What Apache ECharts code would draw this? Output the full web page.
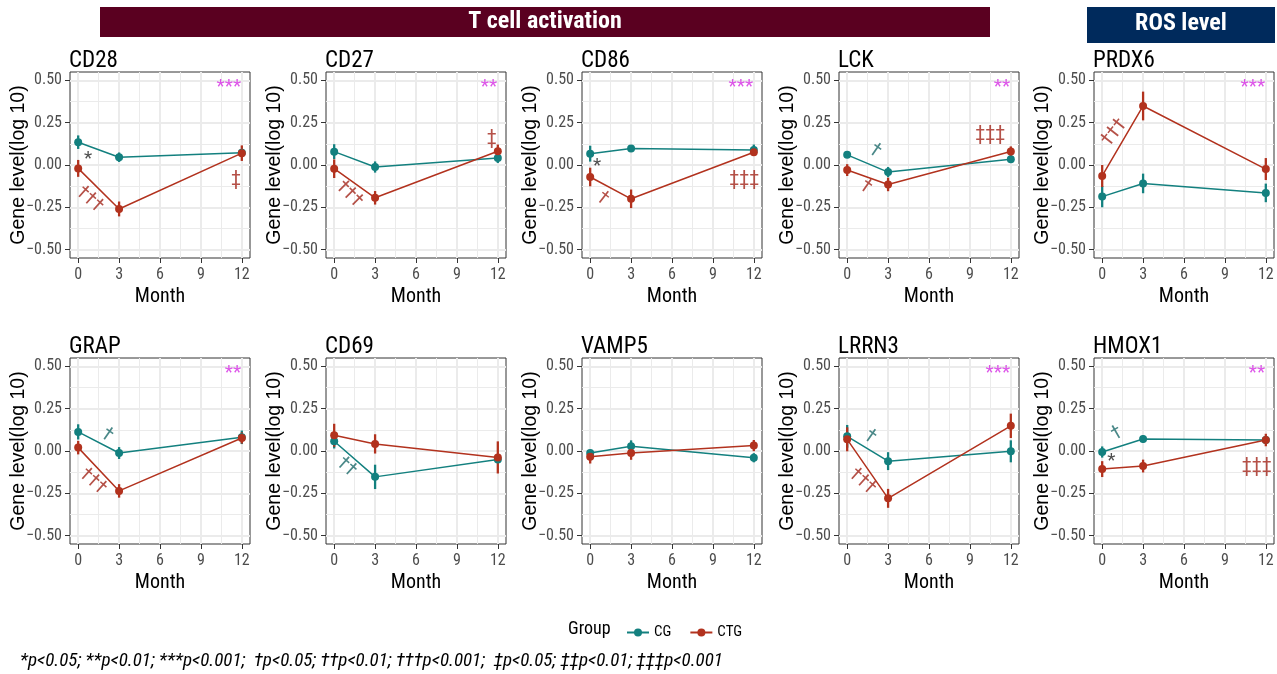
<!DOCTYPE html>
<html>
<head>
<meta charset="utf-8">
<script src="https://cdn.jsdelivr.net/npm/echarts@6/dist/echarts.min.js"></script>
<style>
html,body{margin:0;padding:0;background:#fff;}
#c{width:1277px;height:674px;}
</style>
</head>
<body>
<div id="c"></div>
<script>
// ---------------- DATA ----------------
const genes = ['CD28','CD27','CD86','LCK','PRDX6','GRAP','CD69','VAMP5','LRRN3','HMOX1'];
const months = [0, 3, 12];
const xTicks = [0, 3, 6, 9, 12];
const yTicks = [-0.5, -0.25, 0, 0.25, 0.5];

// CG group means (log10 gene level) at months 0, 3, 12
const cgMean = [
  [0.135, 0.046, 0.073],
  [0.079, -0.012, 0.042],
  [0.067, 0.097, 0.089],
  [0.060, -0.042, 0.034],
  [-0.187, -0.109, -0.165],
  [0.113, -0.012, 0.081],
  [0.058, -0.153, -0.050],
  [-0.012, 0.028, -0.040],
  [0.087, -0.060, -0.002],
  [-0.006, 0.071, 0.065]
];
const cgSE = [
  [0.040, 0.028, 0.020],
  [0.044, 0.033, 0.030],
  [0.047, 0.010, 0.032],
  [0.015, 0.030, 0.015],
  [0.063, 0.058, 0.055],
  [0.045, 0.035, 0.040],
  [0.043, 0.072, 0.020],
  [0.020, 0.035, 0.027],
  [0.067, 0.053, 0.065],
  [0.033, 0.022, 0.017]
];
// CTG group means
const ctgMean = [
  [-0.020, -0.260, 0.070],
  [-0.022, -0.194, 0.081],
  [-0.071, -0.200, 0.075],
  [-0.030, -0.115, 0.080],
  [-0.065, 0.349, -0.024],
  [0.020, -0.236, 0.077],
  [0.093, 0.042, -0.038],
  [-0.034, -0.012, 0.032],
  [0.069, -0.280, 0.149],
  [-0.107, -0.089, 0.065]
];
const ctgSE = [
  [0.050, 0.044, 0.046],
  [0.055, 0.040, 0.040],
  [0.055, 0.055, 0.020],
  [0.035, 0.040, 0.030],
  [0.065, 0.085, 0.065],
  [0.040, 0.040, 0.033],
  [0.068, 0.057, 0.095],
  [0.040, 0.040, 0.033],
  [0.071, 0.056, 0.072],
  [0.047, 0.038, 0.037]
];
// significance annotations: [panel, month, value, text, kind, angle]
const annotations = [
  [0, 11.95, 0.46, '***', 'inter', 0],
  [0, 0.72, 0.036, '*', 'star', 0],
  [0, 0.84, -0.204, '†††', 'ctg', -42],
  [0, 11.58, -0.089, '‡', 'ctgd', 0],
  [1, 11.95, 0.46, '**', 'inter', 0],
  [1, 1.11, -0.173, '†††', 'ctg', -45],
  [1, 11.55, 0.153, '‡', 'ctgd', 0],
  [2, 11.95, 0.46, '***', 'inter', 0],
  [2, 0.5, -0.006, '*', 'star', 0],
  [2, 0.91, -0.198, '†', 'ctg', -38],
  [2, 11.3, -0.089, '‡‡‡', 'ctgd', 0],
  [3, 11.95, 0.46, '**', 'inter', 0],
  [3, 2.05, 0.083, '†', 'cg', -35],
  [3, 1.36, -0.129, '†', 'ctg', -35],
  [3, 10.5, 0.179, '‡‡‡', 'ctgd', 0],
  [4, 11.95, 0.46, '***', 'inter', 0],
  [4, 0.89, 0.192, '†††', 'ctg', 52],
  [5, 11.95, 0.46, '**', 'inter', 0],
  [5, 2.12, 0.093, '†', 'cg', -35],
  [5, 1.08, -0.18, '†††', 'ctg', -42],
  [6, 0.91, -0.095, '††', 'cg', -42],
  [8, 11.95, 0.46, '***', 'inter', 0],
  [8, 1.67, 0.083, '†', 'cg', -35],
  [8, 1.11, -0.18, '†††', 'ctg', -42],
  [9, 11.95, 0.46, '**', 'inter', 0],
  [9, 1.08, 0.103, '†', 'cg', 30],
  [9, 0.67, -0.06, '*', 'star', 0],
  [9, 11.33, -0.095, '‡‡‡', 'ctgd', 0]
];
const footnote = '*p<0.05; **p<0.01; ***p<0.001;  †p<0.05; ††p<0.01; †††p<0.001;  ‡p<0.05; ‡‡p<0.01; ‡‡‡p<0.001';

// ---------------- STYLE / LAYOUT ----------------
const NARROW = "'Liberation Sans Narrow','Arial Narrow','Roboto Condensed',sans-serif";
const REG = "'Liberation Sans',Arial,sans-serif";
const CG_COLOR = '#13807f';
const CTG_COLOR = '#b2321e';
const annColor = {inter:'#d42be3', star:'#222222', cg:'#1d6a6a', ctg:'#a3261a', ctgd:'#a3261a'};
const panelLeft = [70, 326, 582, 839, 1094];
const panelTop = [72, 358];
const panelW = 180, panelH = 186;

const grids = [], xAxes = [], yAxes = [], series = [], titles = [];
const fmtY = v => (v < 0 ? '\u2212' : '') + Math.abs(v).toFixed(2);

genes.forEach((g, i) => {
  const r = Math.floor(i / 5), c = i % 5;
  grids.push({left: panelLeft[c], top: panelTop[r], width: panelW, height: panelH,
    show: true, borderColor: '#333333', borderWidth: 1, backgroundColor: '#ffffff', containLabel: false});
  titles.push({text: g, left: panelLeft[c] - 1, top: panelTop[r] - 22, padding: 0,
    textStyle: {fontFamily: NARROW, fontSize: 23, fontWeight: 'normal', color: '#000'}});
  // major x axis
  xAxes.push({type: 'value', gridIndex: i, min: -0.6, max: 12.6, position: 'bottom',
    name: 'Month', nameLocation: 'middle', nameGap: 29, nameMoveOverlap: false,
    nameTextStyle: {fontFamily: NARROW, fontSize: 20, color: '#000'},
    axisLine: {show: false, onZero: false},
    axisTick: {show: true, customValues: xTicks, length: 5, lineStyle: {color: '#333', width: 1}},
    axisLabel: {customValues: xTicks, margin: 9, fontFamily: NARROW, fontSize: 16, color: '#4d4d4d'},
    splitLine: {show: true, lineStyle: {color: '#ebebeb', width: 2}}});
  // minor x grid
  xAxes.push({type: 'value', gridIndex: i, min: -0.6, max: 12.6, position: 'top',
    axisLine: {show: false, onZero: false}, axisLabel: {show: false},
    axisTick: {show: false, customValues: [1.5, 4.5, 7.5, 10.5]},
    splitLine: {show: true, lineStyle: {color: '#ebebeb', width: 1}}});
  yAxes.push({type: 'value', gridIndex: i, min: -0.55, max: 0.55, position: 'left',
    name: 'Gene level(log 10)', nameLocation: 'middle', nameGap: 41, nameRotate: 90, nameMoveOverlap: false,
    nameTextStyle: {fontFamily: REG, fontSize: 19.5, color: '#000'},
    axisLine: {show: false, onZero: false},
    axisTick: {show: true, customValues: yTicks, length: 5, lineStyle: {color: '#333', width: 1}},
    axisLabel: {customValues: yTicks, margin: 8, formatter: fmtY, fontFamily: NARROW, fontSize: 16, color: '#4d4d4d'},
    splitLine: {show: true, lineStyle: {color: '#ebebeb', width: 2}}});
  yAxes.push({type: 'value', gridIndex: i, min: -0.55, max: 0.55, position: 'right',
    axisLine: {show: false, onZero: false}, axisLabel: {show: false},
    axisTick: {show: false, customValues: [-0.375, -0.125, 0.125, 0.375]},
    splitLine: {show: true, lineStyle: {color: '#ebebeb', width: 1}}});

  const xi = 2 * i, yi = 2 * i;
  const errSeries = (name, means, ses, color) => ({
    type: 'custom', name: name + '-se', xAxisIndex: xi, yAxisIndex: yi, z: 3,
    data: months.map((m, j) => [m, means[i][j], ses[i][j]]),
    renderItem: (params, api) => {
      const x = api.value(0), y = api.value(1), e = api.value(2);
      const p1 = api.coord([x, y - e]), p2 = api.coord([x, y + e]);
      return {type: 'line', shape: {x1: p1[0], y1: p1[1], x2: p2[0], y2: p2[1]},
        style: {stroke: color, lineWidth: 2.3}};
    }
  });
  series.push(errSeries('CG', cgMean, cgSE, CG_COLOR));
  series.push(errSeries('CTG', ctgMean, ctgSE, CTG_COLOR));
  const lineSeries = (name, means, color, z) => ({
    type: 'line', name: name, xAxisIndex: xi, yAxisIndex: yi, z: z,
    data: months.map((m, j) => [m, means[i][j]]),
    symbol: 'circle', symbolSize: 8, showSymbol: true,
    itemStyle: {color: color}, lineStyle: {color: color, width: 1.5},
    emphasis: {disabled: true}
  });
  series.push(lineSeries('CG', cgMean, CG_COLOR, 4));
  series.push(lineSeries('CTG', ctgMean, CTG_COLOR, 5));
  const anns = annotations.filter(a => a[0] === i);
  if (anns.length) {
    series.push({
      type: 'scatter', name: 'ann', xAxisIndex: xi, yAxisIndex: yi, z: 6,
      symbolSize: 0, silent: true,
      data: anns.map(a => ({
        value: [a[1], a[2]],
        label: {show: true, position: 'inside', formatter: a[3], rotate: a[5],
          align: a[4] === 'inter' ? 'right' : 'center', verticalAlign: 'middle',
          color: annColor[a[4]], fontFamily: NARROW,
          fontSize: a[4] === 'inter' ? 19 : (a[4] === 'star' ? 19 : 20)}
      }))
    });
  }
});

const option = {
  animation: false,
  backgroundColor: '#ffffff',
  title: titles,
  grid: grids,
  xAxis: xAxes,
  yAxis: yAxes,
  series: series,
  legend: {
    data: ['CG', 'CTG'], left: 621, top: 620, itemWidth: 22, itemHeight: 10, itemGap: 18,
    textStyle: {fontFamily: NARROW, fontSize: 15, color: '#000'}, selectedMode: false
  },
  graphic: [
    {type: 'rect', x: 100, y: 7, shape: {x: 0, y: 0, width: 890, height: 30}, style: {fill: '#5a0020'}},
    {type: 'text', x: 545, y: 22, style: {text: 'T cell activation', fill: '#fff', align: 'center',
      verticalAlign: 'middle', font: "bold 24px " + NARROW}},
    {type: 'rect', x: 1087, y: 7, shape: {x: 0, y: 0, width: 188, height: 36}, style: {fill: '#002a5c'}},
    {type: 'text', x: 1181, y: 24, style: {text: 'ROS level', fill: '#fff', align: 'center',
      verticalAlign: 'middle', font: "bold 24px " + NARROW}},
    {type: 'text', x: 568, y: 629, style: {text: 'Group', fill: '#000', verticalAlign: 'middle', font: "18px " + NARROW}},
    {type: 'text', x: 20, y: 661, style: {text: footnote, fill: '#000', verticalAlign: 'middle', font: "italic 19px " + NARROW}}
  ]
};

const chart = echarts.init(document.getElementById('c'), null, {renderer: 'canvas'});
chart.setOption(option);
</script>
</body>
</html>
